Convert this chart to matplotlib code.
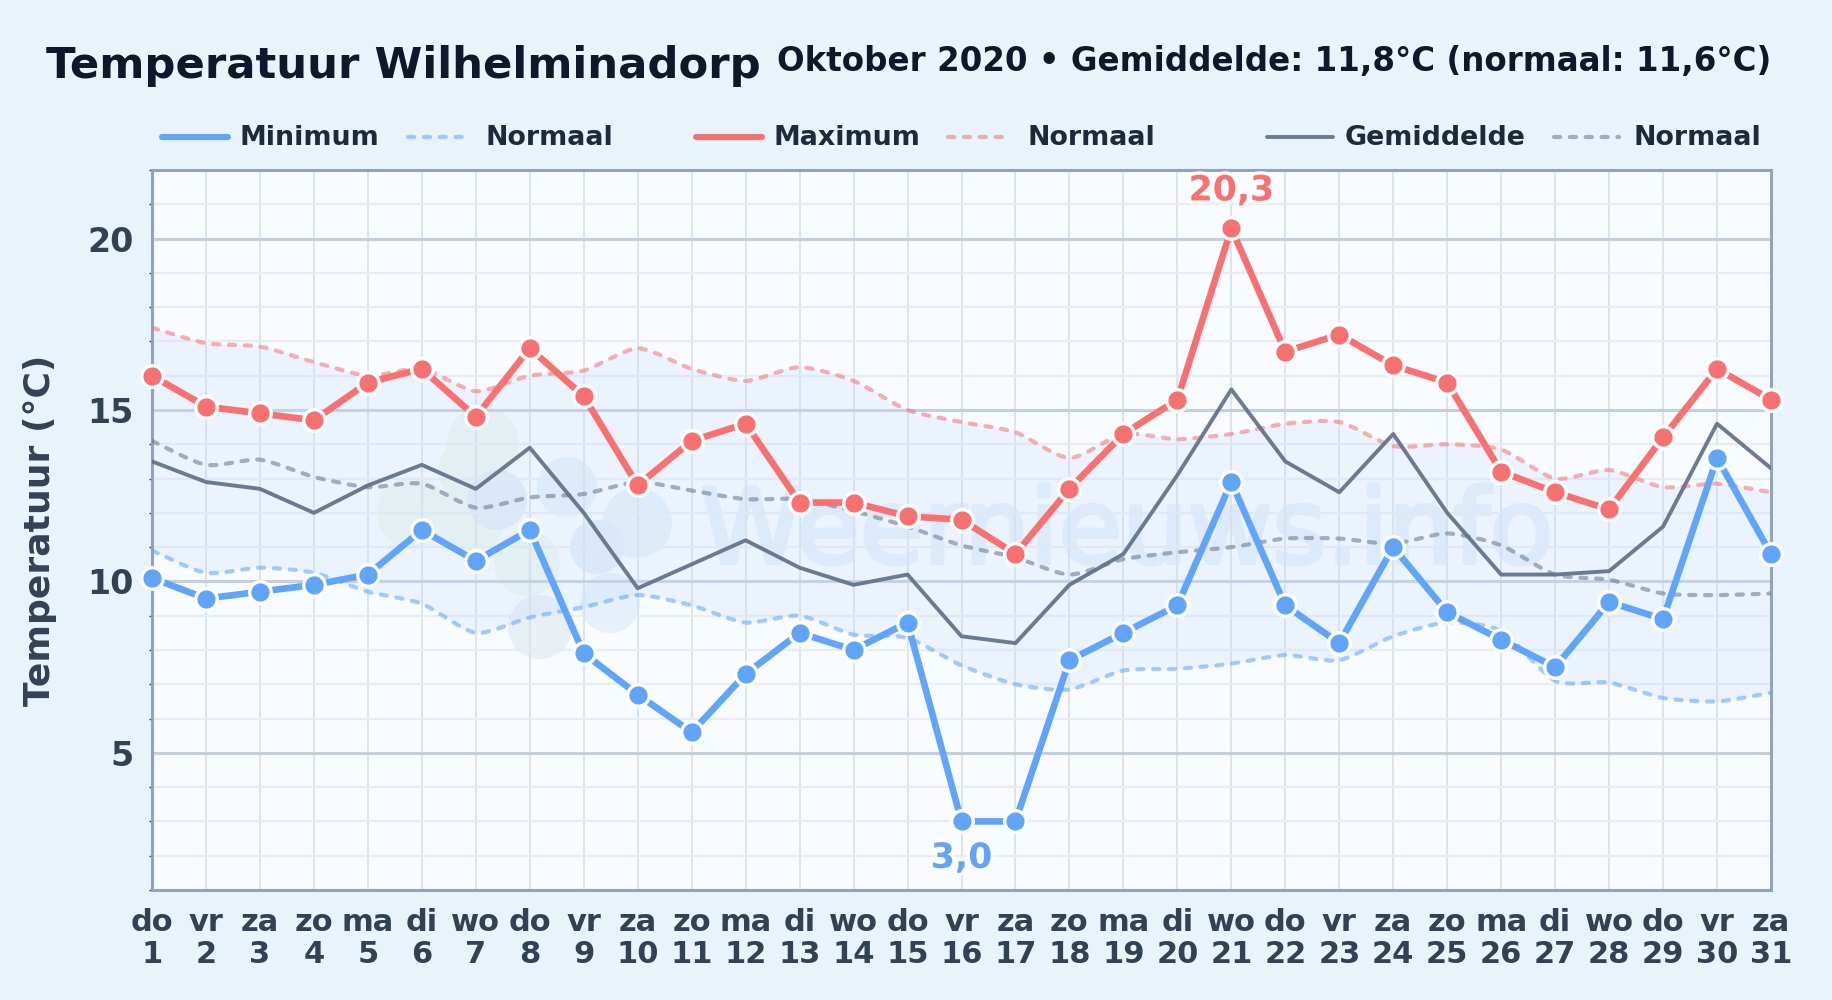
import matplotlib
matplotlib.use("Agg")
import matplotlib.pyplot as plt
import matplotlib.patheffects as pe
from matplotlib.lines import Line2D
from matplotlib.patches import Circle, PathPatch
from matplotlib.path import Path
from matplotlib.transforms import Affine2D
import numpy as np

days = list(range(1, 32))
weekdays = ["do", "vr", "za", "zo", "ma", "di", "wo"] * 4 + ["do", "vr", "za"]

t_min = [10.1, 9.5, 9.7, 9.9, 10.2, 11.5, 10.6, 11.5, 7.9, 6.7, 5.6, 7.3, 8.5, 8.0, 8.8, 3.0,
         3.0, 7.7, 8.5, 9.3, 12.9, 9.3, 8.2, 11.0, 9.1, 8.3, 7.5, 9.4, 8.9, 13.6, 10.8]
t_max = [16.0, 15.1, 14.9, 14.7, 15.8, 16.2, 14.8, 16.8, 15.4, 12.8, 14.1, 14.6, 12.3, 12.3, 11.9, 11.8,
         10.8, 12.7, 14.3, 15.3, 20.3, 16.7, 17.2, 16.3, 15.8, 13.2, 12.6, 12.1, 14.2, 16.2, 15.3]
t_mean = [13.5, 12.9, 12.7, 12.0, 12.8, 13.4, 12.7, 13.9, 12.0, 9.8, 10.5, 11.2, 10.4, 9.9, 10.2, 8.4,
          8.2, 9.9, 10.8, 13.1, 15.6, 13.5, 12.6, 14.3, 12.0, 10.2, 10.2, 10.3, 11.6, 14.6, 13.3]
norm_min = [10.9, 10.25, 10.4, 10.25, 9.7, 9.35, 8.5, 8.95, 9.25, 9.6, 9.3, 8.8, 9.0, 8.45, 8.35, 7.55,
            7.0, 6.85, 7.4, 7.45, 7.6, 7.85, 7.7, 8.4, 8.8, 8.55, 7.1, 7.05, 6.6, 6.5, 6.75]
norm_max = [17.4, 16.95, 16.85, 16.4, 16.0, 16.2, 15.55, 16.0, 16.15, 16.8, 16.2, 15.85, 16.25, 15.85, 15.0, 14.65,
            14.35, 13.6, 14.3, 14.15, 14.3, 14.6, 14.65, 13.95, 14.0, 13.85, 13.0, 13.25, 12.75, 12.85, 12.6]
norm_mean = [14.1, 13.4, 13.55, 13.05, 12.75, 12.85, 12.15, 12.45, 12.55, 12.9, 12.65, 12.4, 12.4, 12.05, 11.6, 11.05,
             10.7, 10.2, 10.65, 10.85, 11.0, 11.25, 11.25, 11.1, 11.4, 11.05, 10.2, 10.05, 9.65, 9.6, 9.65]

BLUE = "#60a5fa"
RED = "#f87171"
GREY = "#64748b"
INK = "#0f172a"
LABEL = "#334155"
DOTS = (0, (1.5, 2.3))


def curve_verts(x, y, tension=0.12):
    # bezier segments through the points, like a chart line with some tension
    verts = [(x[0], y[0])]
    for i in range(len(x) - 1):
        x0, y0 = x[max(i - 1, 0)], y[max(i - 1, 0)]
        x3, y3 = x[min(i + 2, len(x) - 1)], y[min(i + 2, len(y) - 1)]
        verts.append((x[i] + (x[i + 1] - x0) * tension, y[i] + (y[i + 1] - y0) * tension))
        verts.append((x[i + 1] - (x3 - x[i]) * tension, y[i + 1] - (y3 - y[i]) * tension))
        verts.append((x[i + 1], y[i + 1]))
    return verts


def curve_path(x, y):
    verts = curve_verts(x, y)
    codes = [Path.MOVETO] + [Path.CURVE4] * (len(verts) - 1)
    return Path(verts, codes)


def band_path(x, low, high):
    top = curve_verts(x, high)
    bottom = curve_verts(x[::-1], low[::-1])
    verts = top + [bottom[0]] + bottom[1:] + [top[0]]
    codes = ([Path.MOVETO] + [Path.CURVE4] * (len(top) - 1) + [Path.LINETO]
             + [Path.CURVE4] * (len(bottom) - 1) + [Path.CLOSEPOLY])
    return Path(verts, codes)


fig = plt.figure(figsize=(18.32, 10), dpi=100, facecolor="#e8f3fc")
plt.rcParams["font.family"] = "DejaVu Sans"

# pixels from the top left of the picture
px = Affine2D().scale(1 / 1832, -1 / 1000).translate(0, 1) + fig.transFigure

ax = fig.add_axes([152 / 1832, 1 - 890 / 1000, (1771 - 152) / 1832, (890 - 170) / 1000])
ax.set_xlim(1, 31)
ax.set_ylim(1, 22)

ax.set_xticks(days)
ax.set_xticklabels([f"{w}\n{d}" for w, d in zip(weekdays, days)], fontsize=22, fontweight="bold",
                   color=LABEL, linespacing=1.13)
ax.set_yticks([5, 10, 15, 20])
ax.set_yticklabels(["5", "10", "15", "20"], fontsize=24, fontweight="bold", color=LABEL)
ax.set_yticks(range(1, 23), minor=True)
ax.tick_params(axis="x", length=0, pad=13)
ax.tick_params(axis="y", which="major", length=0, pad=13)
ax.tick_params(axis="y", which="minor", length=2.5, width=1, color="#334155")
ax.grid(axis="x", color="#d9e2ec", lw=1.3, zorder=1)
ax.grid(axis="y", which="minor", color="#e8edf3", lw=1.6, zorder=1)
ax.grid(axis="y", which="major", color="#c3cfdd", lw=2.2, zorder=1)
ax.set_axisbelow(True)
for s in ax.spines.values():
    s.set_color("#94a3b8")
    s.set_linewidth(2.2)

# band between normal min and max
ax.add_patch(PathPatch(band_path(days, norm_min, norm_max), facecolor="#c3dcfb", edgecolor="none",
                       alpha=0.24, zorder=1.5))

# plot background and watermark sit under the transparent axes
ax.set_zorder(3)
ax.patch.set_alpha(0.0)
fig.add_artist(plt.Rectangle((152, 110), 1619, 720, transform=Affine2D(), facecolor="#f8fbff",
                             edgecolor="none", zorder=1))
blobs = [
    (483, 443, 36, "#eef6f0"), (468, 470, 30, "#eef6f0"), (413, 513, 36, "#eef6f0"), (470, 520, 34, "#eef6f0"),
    (527, 563, 33, "#eef6f0"), (540, 627, 32, "#e8eff5"), (610, 603, 30, "#e6f1fc"), (637, 523, 35, "#e6f1fc"),
    (567, 487, 30, "#e6f1fc"), (497, 500, 30, "#e2edf9"), (597, 547, 27, "#e2edf9"),
]
for bx, by, br, col in blobs:
    fig.add_artist(Circle((0, 0), br, transform=Affine2D().translate(bx, 1000 - by), facecolor=col,
                          edgecolor="none", zorder=2))
fig.text(700 / 1832, 1 - 563 / 1000, "Weernieuws.info", fontsize=74.5, color="#e6effb", ha="left",
         va="baseline", zorder=2, path_effects=[pe.withStroke(linewidth=3, foreground="#e6effb")])

# normals
for vals, col in [(norm_min, BLUE), (norm_max, RED), (norm_mean, GREY)]:
    ax.add_patch(PathPatch(curve_path(days, vals), facecolor="none", edgecolor=col, lw=3.0, alpha=0.55,
                           linestyle=DOTS, capstyle="round", zorder=3))

ax.plot(days, t_mean, color=GREY, lw=2.8, alpha=0.95, zorder=4)
for vals, col in [(t_max, RED), (t_min, BLUE)]:
    ax.plot(days, vals, color=col, lw=4.8, marker="o", ms=15.5, mfc=col, mec="white", mew=2.4,
            clip_on=False, zorder=5)

halo = [pe.withStroke(linewidth=5, foreground="white", alpha=0.85)]
ax.annotate("20,3", (21, 20.3), xytext=(0, 15), textcoords="offset points", ha="center", va="bottom",
            fontsize=25, fontweight="bold", color=RED, path_effects=halo, zorder=6)
ax.annotate("3,0", (16, 3.0), xytext=(0, -14), textcoords="offset points", ha="center", va="top",
            fontsize=25, fontweight="bold", color=BLUE, path_effects=halo, zorder=6)

fig.text(40 / 1832, 1 - 530 / 1000, "Temperatuur (°C)", rotation=90, ha="center", va="center",
         fontsize=26, fontweight="bold", color=LABEL)

fig.text(46 / 1832, 1 - 66 / 1000, "Temperatuur Wilhelminadorp", fontsize=31.2, fontweight="bold", color=INK,
         ha="left", va="center")
fig.text(1771 / 1832, 1 - 61 / 1000, "Oktober 2020 • Gemiddelde: 11,8°C (normaal: 11,6°C)", fontsize=23.45,
         fontweight="bold", color=INK, ha="right", va="center")

# legend keys
legend_items = [
    (162, 228, 240, "Minimum", BLUE, 4.4, "-", 1.0),
    (408, 465, 486, "Normaal", BLUE, 3.0, DOTS, 0.55),
    (696, 762, 773, "Maximum", RED, 4.4, "-", 1.0),
    (948, 1005, 1027, "Normaal", RED, 3.0, DOTS, 0.55),
    (1267, 1333, 1345, "Gemiddelde", GREY, 2.8, "-", 0.95),
    (1554, 1619, 1634, "Normaal", GREY, 3.0, DOTS, 0.55),
]
for x0, x1, xt, name, col, lw, ls, al in legend_items:
    fig.add_artist(Line2D([x0, x1], [137, 137], transform=px, color=col, lw=lw, ls=ls, alpha=al,
                          solid_capstyle="round", dash_capstyle="round"))
    fig.text(xt / 1832, 1 - 138 / 1000, name, fontsize=19.4, fontweight="bold", color="#1e293b", ha="left",
             va="center")

fig.savefig("out.png", dpi=100, facecolor=fig.get_facecolor())
